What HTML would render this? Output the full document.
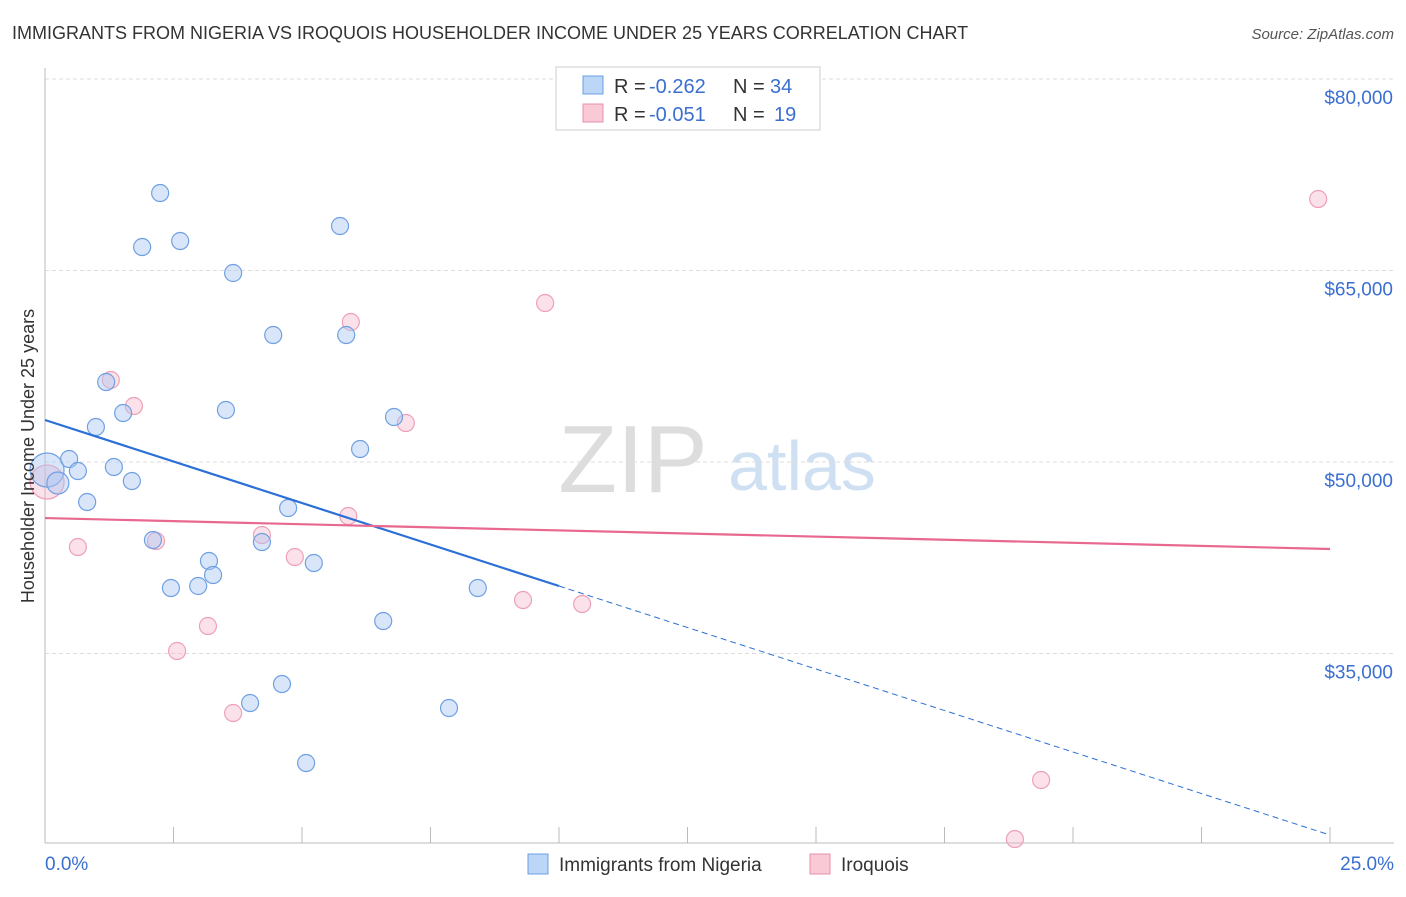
<!DOCTYPE html>
<html><head><meta charset="utf-8"><style>
body{margin:0;background:#fff;font-family:"Liberation Sans",sans-serif;}
svg text{font-family:"Liberation Sans",sans-serif;}
</style></head><body>
<svg id="chart" width="1406" height="892" viewBox="0 0 1406 892" xmlns="http://www.w3.org/2000/svg">
<text x="12" y="39" font-size="18" fill="#333">IMMIGRANTS FROM NIGERIA VS IROQUOIS HOUSEHOLDER INCOME UNDER 25 YEARS CORRELATION CHART</text>
<text x="1394" y="39" font-size="15" fill="#555" text-anchor="end" font-style="italic">Source: ZipAtlas.com</text>
<g>
<text x="633" y="492" font-size="96" fill="#ddd" text-anchor="middle" font-family="Liberation Serif">ZIP</text>
<text x="802" y="490" font-size="70" fill="#cfe0f3" text-anchor="middle">atlas</text>
</g>
<g id="grid"></g>
<g id="axes"></g>
<g id="marks"></g>
<g>
<rect x="556" y="67" width="264" height="63" fill="#fff" stroke="#ccc"/>
<rect x="583" y="76" width="20" height="18" fill="#bcd6f7" stroke="#6a9fe0"/>
<rect x="583" y="104" width="20" height="18" fill="#f9c9d6" stroke="#e890aa"/>
<text x="614" y="93" font-size="20" fill="#333">R =</text>
<text x="649" y="93" font-size="20" fill="#3a6fd0">-0.262</text>
<text x="733" y="93" font-size="20" fill="#333">N =</text>
<text x="770" y="93" font-size="20" fill="#3a6fd0">34</text>
<text x="614" y="121" font-size="20" fill="#333">R =</text>
<text x="649" y="121" font-size="20" fill="#3a6fd0">-0.051</text>
<text x="733" y="121" font-size="20" fill="#333">N =</text>
<text x="774" y="121" font-size="20" fill="#3a6fd0">19</text>
</g>
<g>
<rect x="528" y="854" width="20" height="20" fill="#bcd6f7" stroke="#6a9fe0"/>
<text x="559" y="871" font-size="19" fill="#333">Immigrants from Nigeria</text>
<rect x="810" y="854" width="20" height="20" fill="#f9c9d6" stroke="#e890aa"/>
<text x="841" y="871" font-size="19" fill="#333">Iroquois</text>
</g>
<text transform="translate(34,456) rotate(-90)" font-size="18" fill="#333" text-anchor="middle">Householder Income Under 25 years</text>
</svg>
<script>
const yTicks=[80000,65000,50000,35000];
const yTickLabels=["$80,000","$65,000","$50,000","$35,000"];
const xTickLabels=["0.0%","25.0%"];
const blueX=[0.04,0.25,0.47,0.64,0.82,0.99,1.19,1.34,1.52,1.69,1.89,2.10,2.24,2.45,2.63,2.98,3.19,3.27,3.52,3.66,3.99,4.22,4.44,4.61,4.73,5.08,5.23,5.74,5.86,6.13,6.58,6.79,7.86,8.42];
const blueY=[49373,48355,50234,49294,46866,52741,56266,49608,53837,48511,66840,43889,71070,40130,67310,40287,42245,41148,54073,64804,31121,43733,59947,32609,46396,26422,42088,68485,59947,51018,37545,53524,30729,40130];
const pinkX=[0.04,0.64,1.28,1.73,2.16,2.57,3.17,3.66,4.22,4.86,5.90,5.95,7.02,9.30,9.73,10.45,19.38,18.87,24.77];
const pinkY=[48433,43341,56423,54386,43811,35195,37153,30338,44281,42558,45770,60966,53054,39190,62454,38877,25090,20468,70600];
const blueTrend=[53290,20780];
const pinkTrend=[45610,43185];
const NS="http://www.w3.org/2000/svg";
function xs(p){return 45+p/25*1285;}
function ys(v){return 79+(80000-v)/15000*191.5;}
function mk(t,a,parent){const e=document.createElementNS(NS,t);for(const k in a)e.setAttribute(k,a[k]);document.getElementById(parent).appendChild(e);return e;}
yTicks.forEach((v,i)=>{
 const l=mk('line',{x1:45,x2:1394,y1:ys(v),y2:ys(v),stroke:'#ddd','stroke-dasharray':'4,3'},'grid');
 
 
 const t=mk('text',{x:1393,y:ys(v)+25,'font-size':19,fill:'#3a6fd0','text-anchor':'end'},'grid');
 t.textContent=yTickLabels[i];
 
 
});
const ax=mk('line',{x1:45,x2:45,y1:68,y2:843,stroke:'#bbb'},'axes');


const bx=mk('line',{x1:45,x2:1394,y1:843,y2:843,stroke:'#bbb'},'axes');


for(let i=1;i<=10;i++){const tk=mk('line',{x1:xs(i*2.5),x2:xs(i*2.5),y1:827,y2:843,stroke:'#bbb'},'axes');
 
 }
[[0,'start',45],[25,'end',1394]].forEach((d,i)=>{const t=mk('text',{x:d[2],y:870,'font-size':19,fill:'#3a6fd0','text-anchor':d[1]},'axes');t.textContent=xTickLabels[i];
 
 });
pinkX.forEach((p,i)=>{const c=mk('circle',{cx:xs(p),cy:ys(pinkY[i]),r:i==0?17:8.5,fill:'rgba(246,180,200,0.4)',stroke:'#eea0b6','stroke-width':1.2},'marks');
 
 });
blueX.forEach((p,i)=>{const c=mk('circle',{cx:xs(p),cy:ys(blueY[i]),r:i==0?17:(i==1?11:8.5),fill:'rgba(170,200,245,0.45)',stroke:'#6fa0e2','stroke-width':1.2},'marks');
 
 });
const bv=p=>blueTrend[0]+(blueTrend[1]-blueTrend[0])*p/25;
const b1=mk('line',{x1:xs(0),y1:ys(bv(0)),x2:xs(10),y2:ys(bv(10)),stroke:'#2c6fd6','stroke-width':2.2},'marks');


const b2=mk('line',{x1:xs(10),y1:ys(bv(10)),x2:xs(25),y2:ys(bv(25)),stroke:'#2c6fd6','stroke-width':1,'stroke-dasharray':'6,4'},'marks');


const pl=mk('line',{x1:xs(0),y1:ys(pinkTrend[0]),x2:xs(25),y2:ys(pinkTrend[1]),stroke:'#e8688f','stroke-width':2.2},'marks');


</script>
</body></html>
